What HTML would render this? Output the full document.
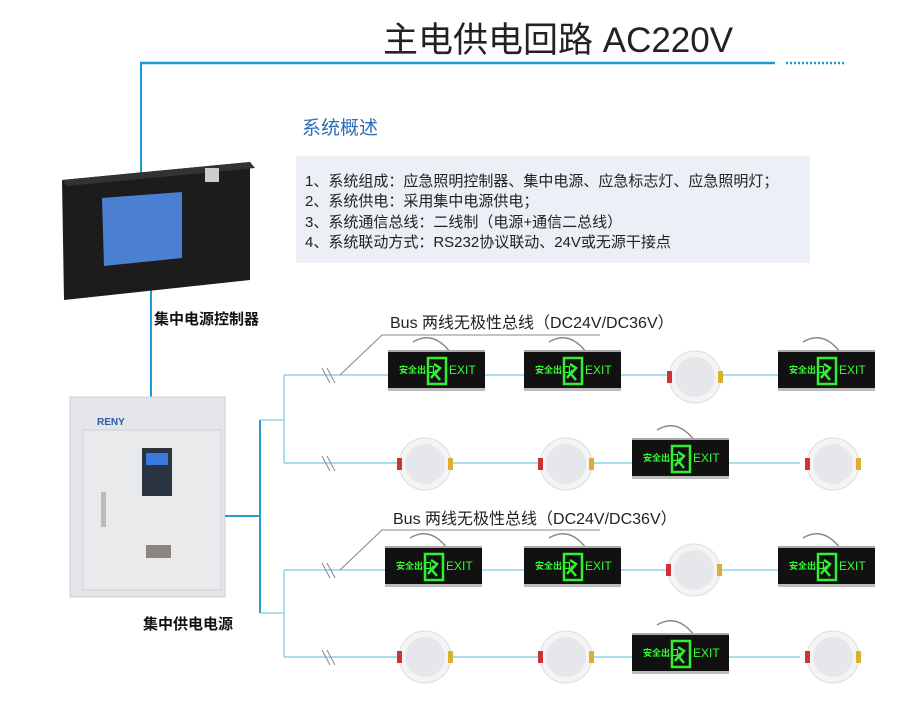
<!DOCTYPE html>
<html><head><meta charset="utf-8"><style>
body{margin:0;width:900px;height:708px;background:#fff;overflow:hidden;font-family:"Liberation Sans","Noto Sans CJK SC",sans-serif}
svg{position:absolute;left:0;top:0}
</style></head><body>
<svg width="900" height="708" viewBox="0 0 900 708" font-family="Liberation Sans, Noto Sans CJK SC, sans-serif">
<defs>
<g id="exit">
<path d="M25 -20 Q45 -32 62 -10" stroke="#888" fill="none" stroke-width="1.5"/>
<rect x="0" y="-12" width="97" height="3" fill="#aaa"/>
<rect x="0" y="-10" width="97" height="38" fill="#111"/>
<rect x="0" y="26" width="97" height="3" fill="#bbb"/>
<text x="11" y="11" font-size="9" fill="#3f3" font-weight="bold">安全出口</text>
<rect x="40" y="-4" width="18" height="26" fill="none" stroke="#3e3" stroke-width="2.5"/>
<path d="M46 2 l6 4 l-5 6 l5 6 M49 8 l-6 8" stroke="#3e3" stroke-width="2.5" fill="none"/>
<text x="61" y="12" font-size="12" fill="#3f3">EXIT</text>
</g>
<g id="lamp">
<circle r="26" fill="#f4f4f4" stroke="#ddd"/>
<circle r="20" fill="#e6e7ea"/>
<rect x="-28" y="-6" width="5" height="12" fill="#c33"/>
<rect x="23" y="-6" width="5" height="12" fill="#d9b030"/>
</g>
</defs>
<text x="383" y="52" font-size="35" fill="#222">主电供电回路 AC220V</text>
<line x1="140" y1="63" x2="775" y2="63" stroke="#1a9ad6" stroke-width="2.5"/>
<line x1="786" y1="63" x2="845" y2="63" stroke="#1a9ad6" stroke-width="2.5" stroke-dasharray="2,2"/>
<line x1="141" y1="62" x2="141" y2="175" stroke="#1a9ad6" stroke-width="2"/>
<line x1="151" y1="285" x2="151" y2="400" stroke="#1a9ad6" stroke-width="2"/>
<text x="302" y="134" font-size="19" fill="#2d6db5">系统概述</text>
<rect x="296" y="156" width="514" height="107" fill="#eceff5"/>
<g font-size="15" fill="#222">
<text x="305" y="186">1、系统组成：应急照明控制器、集中电源、应急标志灯、应急照明灯；</text>
<text x="305" y="206">2、系统供电：采用集中电源供电；</text>
<text x="305" y="227">3、系统通信总线：二线制（电源+通信二总线）</text>
<text x="305" y="247">4、系统联动方式：RS232协议联动、24V或无源干接点</text>
</g>
<polygon points="62,180 250,162 250,280 64,300" fill="#1c1c1c"/>
<polygon points="62,180 250,162 255,168 67,186" fill="#333"/>
<polygon points="102,198 182,192 182,258 104,266" fill="#4a7fd1"/>
<rect x="205" y="168" width="14" height="14" fill="#ccc"/>
<text x="154" y="324" font-size="15" font-weight="bold" fill="#111">集中电源控制器</text>
<rect x="70" y="397" width="155" height="200" fill="#e4e5e8" stroke="#cfd0d4"/>
<rect x="83" y="430" width="138" height="160" fill="#e9eaec" stroke="#d0d0d3"/>
<text x="97" y="425" font-size="10" font-weight="bold" fill="#2a5aa8">RENY</text>
<rect x="142" y="448" width="30" height="48" fill="#2a3340"/>
<rect x="146" y="453" width="22" height="12" fill="#3a7ae0"/>
<rect x="101" y="492" width="5" height="35" fill="#bbb"/>
<rect x="146" y="545" width="25" height="13" fill="#8a8580"/>
<text x="143" y="629" font-size="15" font-weight="bold" fill="#111">集中供电电源</text>
<g stroke="#2a9ad6" stroke-width="2" fill="none">
<path d="M225 516 H260 M260 420 V613"/>
</g>
<g stroke="#8fd2ea" stroke-width="1.5" fill="none">
<path d="M260 420 H284 M284 375 V463 M284 375 H800 M284 463 H800"/>
<path d="M260 613 H284 M284 570 V657 M284 570 H800 M284 657 H800"/>
</g>
<g stroke="#888" stroke-width="1" fill="none">
<path d="M322 368 l8 15 M327 368 l8 15 M322 456 l8 15 M327 456 l8 15 M322 563 l8 15 M327 563 l8 15 M322 650 l8 15 M327 650 l8 15"/>
<path d="M340 375 L382 335 H600 M340 570 L382 530 H600"/>
</g>
<text x="390" y="328" font-size="16" fill="#222">Bus 两线无极性总线（DC24V/DC36V）</text>
<text x="393" y="524" font-size="16" fill="#222">Bus 两线无极性总线（DC24V/DC36V）</text>
<use href="#exit" x="388" y="362"/><use href="#exit" x="524" y="362"/><use href="#lamp" x="695" y="377"/><use href="#exit" x="778" y="362"/>
<use href="#lamp" x="425" y="464"/><use href="#lamp" x="566" y="464"/><use href="#exit" x="632" y="450"/><use href="#lamp" x="833" y="464"/>
<use href="#exit" x="385" y="558"/><use href="#exit" x="524" y="558"/><use href="#lamp" x="694" y="570"/><use href="#exit" x="778" y="558"/>
<use href="#lamp" x="425" y="657"/><use href="#lamp" x="566" y="657"/><use href="#exit" x="632" y="645"/><use href="#lamp" x="833" y="657"/>
</svg>
</body></html>
